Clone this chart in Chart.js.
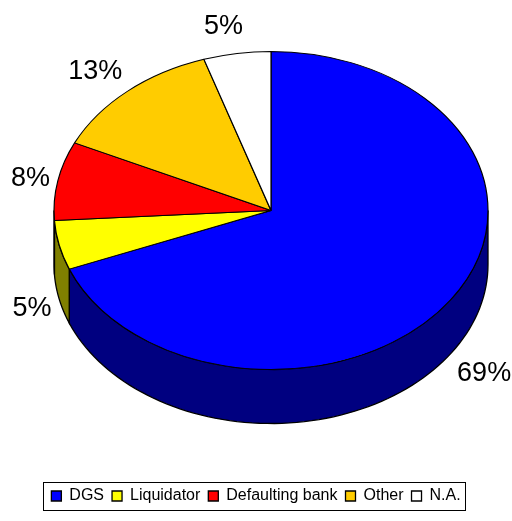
<!DOCTYPE html>
<html>
<head>
<meta charset="utf-8">
<script src="https://cdn.jsdelivr.net/npm/chart.js@4.4.1/dist/chart.umd.min.js"></script>
<style>
    html, body { margin: 0; padding: 0; background: #fff; }
</style>
</head>
<body>
<canvas id="pieChart" width="512" height="521"></canvas>
<script>
// chart data
const categories = ['DGS', 'Liquidator', 'Defaulting bank', 'Other', 'N.A.'];
const shares = [69, 5, 8, 13, 5];
const topColors = ['#0000FF', '#FFFF00', '#FF0000', '#FFCC00', '#FFFFFF'];
const sideColors = ['#000080', '#808000', '#800000', '#806600', '#808080'];

// where the tilted pie sits on the canvas
const ELL = { cx: 271, cy: 210.5, rx: 217, ry: 159, depth: 54 };
const labelFont = '27px "Liberation Sans", Arial, sans-serif';
const legendFont = '"Liberation Sans Narrow", "Arial Narrow", "Liberation Sans", sans-serif';

function ellPoint(t, dy) {
    return [ELL.cx + ELL.rx * Math.cos(t), ELL.cy + ELL.ry * Math.sin(t) + (dy || 0)];
}

const pie3d = {
    id: 'pie3d',
    beforeDatasetsDraw(chart) {
        const ctx = chart.ctx;
        const arcs = chart.getDatasetMeta(0).data;

        // side walls - only the front half (0..PI) is visible
        arcs.forEach((arc, i) => {
            const a = Math.max(arc.startAngle, 0);
            const b = Math.min(arc.endAngle, Math.PI);
            if (b <= a) return;
            const n = 80;
            ctx.beginPath();
            for (let k = 0; k <= n; k++) {
                const p = ellPoint(a + (b - a) * k / n);
                ctx.lineTo(p[0], p[1]);
            }
            for (let k = n; k >= 0; k--) {
                const p = ellPoint(a + (b - a) * k / n, ELL.depth);
                ctx.lineTo(p[0], p[1]);
            }
            ctx.closePath();
            ctx.fillStyle = sideColors[i];
            ctx.fill();
            ctx.strokeStyle = '#000';
            ctx.lineWidth = 1.3;
            ctx.stroke();
        });

        // squash the round pie into the ellipse
        const r = arcs[0].outerRadius;
        ctx.save();
        ctx.translate(ELL.cx, ELL.cy);
        ctx.scale(ELL.rx / r, ELL.ry / r);
        ctx.translate(-arcs[0].x, -arcs[0].y);
    },
    afterDatasetsDraw(chart) {
        const ctx = chart.ctx;
        ctx.restore();

        // percentage labels outside the pie
        const arcs = chart.getDatasetMeta(0).data;
        ctx.save();
        ctx.font = labelFont;
        ctx.fillStyle = '#000';
        ctx.textAlign = 'center';
        ctx.textBaseline = 'middle';
        arcs.forEach((arc, i) => {
            const txt = shares[i] + '%';
            const hw = ctx.measureText(txt).width / 2;
            const m = (arc.startAngle + arc.endAngle) / 2;
            const c = Math.cos(m), s = Math.sin(m);
            const p = ellPoint(m, s > 0 ? ELL.depth : 0);
            const x = p[0] + 8 * c + Math.sign(c) * hw * Math.min(1, Math.abs(c) * 4);
            const y = p[1] + 30 * s + 3;
            ctx.fillText(txt, x, y);
        });
        ctx.restore();
    },
    afterDraw(chart) {
        // frame around the legend
        const boxes = chart.legend.legendHitBoxes;
        if (!boxes || !boxes.length) return;
        const left = Math.min(...boxes.map(b => b.left));
        const right = Math.max(...boxes.map(b => b.left + b.width));
        const mid = boxes[0].top + boxes[0].height / 2;
        const ctx = chart.ctx;
        ctx.save();
        ctx.strokeStyle = '#000';
        ctx.lineWidth = 1;
        ctx.strokeRect(Math.round(left - 8) + 0.5, Math.round(mid - 14) + 0.5, Math.round(right - left + 13), 28);
        ctx.restore();
    }
};

new Chart(document.getElementById('pieChart').getContext('2d'), {
    type: 'pie',
    data: {
        labels: categories,
        datasets: [{
            data: shares,
            backgroundColor: topColors,
            borderColor: '#000',
            borderWidth: 1.3,
            clip: false
        }]
    },
    options: {
        responsive: false,
        animation: false,
        layout: { padding: { bottom: 7 } },
        plugins: {
            legend: {
                position: 'bottom',
                labels: {
                    boxWidth: 10,
                    boxHeight: 10,
                    padding: 8,
                    color: '#000',
                    font: { family: legendFont, size: 16 }
                }
            },
            tooltip: { enabled: false }
        }
    },
    plugins: [pie3d]
});
</script>
</body>
</html>
